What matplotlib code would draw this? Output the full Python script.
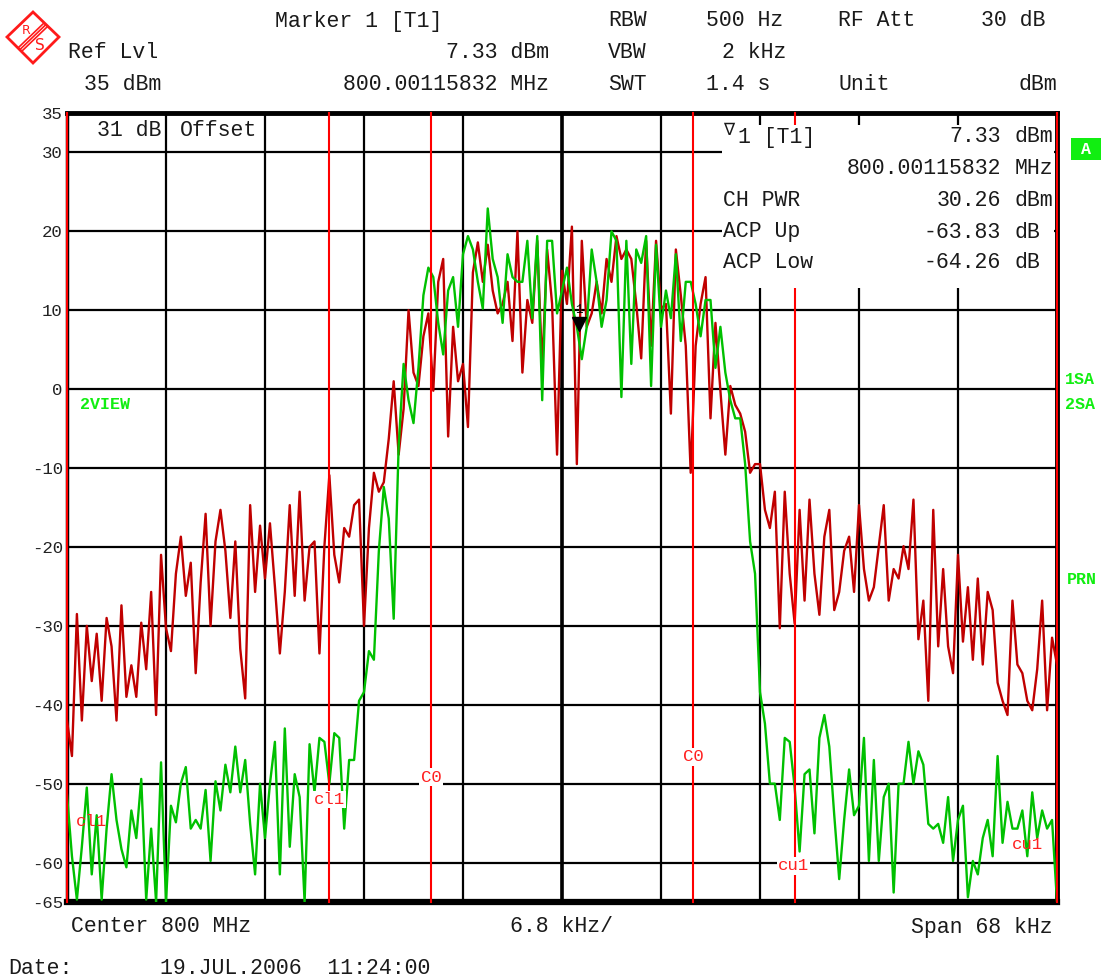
import numpy as np
import matplotlib
matplotlib.use("Agg")
import matplotlib.pyplot as plt
from matplotlib.patches import Rectangle, Polygon
from matplotlib.lines import Line2D
from matplotlib import transforms

W, H = 1107, 977
mono = "Liberation Mono"

# trace data: 201 sweep points, offset from 800 MHz in kHz
freq = np.linspace(-34, 34, 201)

red_db = [
    -42, -46.5, -28.5, -42, -30, -37, -31, -39.5, -29, -32.6,
    -42, -27.4, -39, -35, -39, -29.6, -35.5, -25.7, -41.3, -21,
    -30.3, -33.2, -23.4, -18.7, -26.2, -22, -36, -24.5, -15.8, -30,
    -19.3, -15.3, -20.5, -29, -19.3, -32.9, -39.2, -14.7, -25.7, -17.3,
    -24, -17, -25, -33.5, -25.7, -14.7, -26.2, -13, -26.8, -20,
    -19.3, -33.5, -19.9, -10.9, -21, -24.5, -17.6, -18.7, -14.7, -14,
    -30, -17.6, -10.6, -13, -11.8, -6.3, 1, -8.3, -2.5, 10,
    2.1, 0.4, 6.7, 9.6, -0.2, 13.6, 16.5, -6, 7.9, 1,
    3.2, -4.8, 14.8, 18.6, 13.6, 18.3, 12.5, 9.6, 10.8, 13.6,
    6.1, 20, 2.1, 11.3, 8.4, 18.8, 2.7, 17.7, 10.8, -8.3,
    15, 10.8, 20.6, -9.5, 18.8, 7.9, 9.6, 13.6, 9.6, 16.5,
    13.6, 19.4, 16.5, 17.7, 16.5, 10.8, 3.9, 18.8, 5.5, 18.8,
    10.2, 10.8, -3.1, 17.7, 11.9, 5.5, -10.6, 5.5, 10.8, 14.2,
    -3.7, 8.4, -0.2, -8.3, 0.4, -2, -3.1, -5.4, -10.6, -9.5,
    -9.5, -15.3, -17.6, -13, -30.3, -13, -23.4, -29.7, -15.3, -26.8,
    -14, -23.4, -28.6, -18.7, -15.3, -28, -25.7, -20.5, -18.7, -25.7,
    -14.7, -22.8, -26.8, -25.1, -19.9, -14.7, -26.8, -22.8, -24, -19.9,
    -22.8, -14, -31.7, -26.8, -39.5, -15.3, -32.6, -22.8, -32.6, -36,
    -21, -32, -25.1, -34.3, -24, -34.9, -25.7, -28, -37.2, -39.5,
    -41.3, -26.8, -34.9, -36, -39.5, -40.7, -35.5, -26.8, -40.7, -31.5,
    -34.9,
]

green_db = [
    -51.4, -59.2, -64.7, -58, -50.5, -61.5, -54, -64.7, -55.7, -48.8,
    -54.6, -58.3, -60.6, -53.4, -56.9, -49.4, -64.7, -55.7, -65, -47.3,
    -65, -52.8, -54.9, -50, -47.9, -55.7, -54.6, -55.7, -50.8, -59.8,
    -49.7, -53.4, -47.6, -51.1, -45.3, -51.1, -47, -55.1, -61.5, -50,
    -56.9, -50, -44.7, -61.5, -43, -58, -48.8, -51.7, -65, -45,
    -51.1, -44.2, -44.7, -50, -43.6, -44.2, -55.7, -47, -47, -39.5,
    -38.4, -33.2, -34.3, -20.5, -12.4, -16.4, -29.1, -7.2, 3.2, -1.4,
    -4.3, 2.7, 11.9, 15.4, 14.2, 8.4, 4.4, 12.5, 14.2, 7.9,
    17.1, 19.4, 17.7, 13.6, 10.2, 22.9, 16.5, 14.2, 8.4, 17.1,
    14.2, 13.6, 13.6, 18.8, 9, 19.4, -1.4, 18.8, 18.8, 9.6,
    12.5, 15.4, 10.8, 7.9, 3.8, 7.9, 17.7, 13.6, 7.9, 11.3,
    20, 18.8, -1, 18.8, 3.2, 17.7, 16, 19.4, 0.4, 18.3,
    7.9, 12.5, 9, 17.1, 6.1, 13.6, 13.6, 10.8, 6.7, 11.3,
    11.3, 2.7, 7.9, 2.1, -1.4, -3.7, -3.7, -9.5, -19.3, -23.4,
    -38.4, -42.4, -50, -50, -54.6, -44.2, -44.7, -50.5, -58.6, -48.8,
    -48.2, -56.3, -44.2, -41.3, -45.3, -54, -62.1, -54.6, -48.2, -54,
    -52.8, -44.2, -59.8, -47, -59.8, -51.7, -50, -63.8, -50, -50,
    -44.7, -50, -45.9, -47.6, -55.1, -55.7, -55.1, -57.5, -51.7, -59.8,
    -54.6, -52.8, -64.4, -59.8, -61.5, -56.9, -54.6, -59.2, -46.5, -57.5,
    -52.3, -55.7, -55.7, -53.4, -59.2, -51.1, -56.9, -53.4, -55.7, -54.6,
    -65,
]

# channel / adjacent channel limits (kHz)
chan_lines = [-34, -16, -9, 9, 16, 34]
marker_f = 1.15832
marker_db = 7.33
y_ticks = [35, 30, 20, 10, 0, -10, -20, -30, -40, -50, -60, -65]


def fp(x, y):
    # pixel position -> figure fraction
    return x / W, 1 - y / H


fig = plt.figure(figsize=(W / 100, H / 100), dpi=100)
ax = fig.add_axes([67 / W, 1 - 902 / H, 990 / W, 789 / H])
ax.set_xlim(-34, 34)
ax.set_ylim(-65, 35)
ax.set_xticks(np.arange(-34, 34.01, 6.8))
ax.set_xticklabels([])
ax.set_yticks(y_ticks)
ax.set_yticklabels([str(t) for t in y_ticks], fontfamily=mono, fontsize=12.5, color="#222222")
ax.tick_params(length=0, pad=3)
ax.set_axisbelow(True)
ax.grid(True, color="black", lw=1.6)
ax.axvline(0, color="black", lw=2.6, zorder=1)

for side, lw in [("left", 2.5), ("bottom", 4.5), ("top", 3.5), ("right", 3.5)]:
    ax.spines[side].set_linewidth(lw)

ax.plot(freq, red_db, color="#c00000", lw=1.7, zorder=3)
ax.plot(freq, green_db, color="#00c000", lw=1.7, zorder=4)

for f in chan_lines:
    ax.axvline(f, color="#ff0000", lw=1.5, zorder=5, clip_on=False)

lab = dict(color="#ff2020", fontsize=12.5, family=mono, ha="center", va="center", zorder=6)
box = dict(fc="white", ec="none", pad=1)
ax.text(-32.3, -54.8, "cl1", **lab)
ax.text(-16, -52.0, "cl1", bbox=box, **lab)
ax.text(-9, -49.2, "C0", bbox=box, **lab)
ax.text(9, -46.6, "C0", bbox=box, **lab)
ax.text(15.9, -60.4, "cu1", bbox=box, **lab)
ax.text(32.0, -57.7, "cu1", **lab)

# marker 1
tr = transforms.offset_copy(ax.transData, fig=fig, y=7, units="dots")
ax.plot([marker_f], [marker_db], marker="v", color="black", ms=10, transform=tr, zorder=7)
ax.annotate("1", (marker_f, marker_db), xytext=(0, 21), textcoords="offset pixels",
            ha="center", va="center", fontsize=9, family=mono, zorder=7)

# marker info box covering the grid
fig.add_artist(Rectangle(fp(722, 288), (1054 - 722) / W, (288 - 125) / H,
                         transform=fig.transFigure, fc="white", ec="none", zorder=1))

hdr = dict(family=mono, fontsize=15.5, color="#1a1a1a", va="center", zorder=3)
fig.text(*fp(275, 21), "Marker 1 [T1]", **hdr)
fig.text(*fp(608, 21), "RBW", **hdr)
fig.text(*fp(706, 21), "500 Hz", **hdr)
fig.text(*fp(838, 21), "RF Att", **hdr)
fig.text(*fp(1045, 21), "30 dB", ha="right", **hdr)
fig.text(*fp(68, 52), "Ref Lvl", **hdr)
fig.text(*fp(549, 52), "7.33 dBm", ha="right", **hdr)
fig.text(*fp(608, 52), "VBW", **hdr)
fig.text(*fp(786, 52), "2 kHz", ha="right", **hdr)
fig.text(*fp(84, 84), "35 dBm", **hdr)
fig.text(*fp(549, 84), "800.00115832 MHz", ha="right", **hdr)
fig.text(*fp(608, 84), "SWT", **hdr)
fig.text(*fp(706, 84), "1.4 s", **hdr)
fig.text(*fp(838, 84), "Unit", **hdr)
fig.text(*fp(1057, 84), "dBm", ha="right", **hdr)

fig.text(*fp(97, 131), "31 dB", **hdr)
fig.text(*fp(180, 131), "Offset", **hdr)

fig.text(*fp(729, 130), "\u2207", family="DejaVu Sans", fontsize=12, ha="center",
         va="center", color="#1a1a1a", zorder=3)
fig.text(*fp(738, 138), "1 [T1]", **hdr)
rows = [(136, "7.33", "dBm"), (168, "800.00115832", "MHz"), (200, "30.26", "dBm"),
        (232, "-63.83", "dB"), (263, "-64.26", "dB")]
for y, num, unit in rows:
    fig.text(*fp(1001, y), num, ha="right", **hdr)
    fig.text(*fp(1015, y), unit, **hdr)
fig.text(*fp(723, 200), "CH PWR", **hdr)
fig.text(*fp(723, 232), "ACP Up", **hdr)
fig.text(*fp(723, 263), "ACP Low", **hdr)

fig.text(*fp(71, 927), "Center 800 MHz", **hdr)
fig.text(*fp(510, 927), "6.8 kHz/", **hdr)
fig.text(*fp(1053, 927), "Span 68 kHz", ha="right", **hdr)
fig.text(*fp(8, 968), "Date:", **hdr)
fig.text(*fp(160, 968), "19.JUL.2006  11:24:00", **hdr)

# green status labels
glab = dict(family=mono, fontsize=12, weight="bold", color="#11ee11", va="center")
fig.text(*fp(80, 405), "2VIEW", **glab)
fig.text(*fp(1065, 379), "1SA", **glab)
fig.text(*fp(1065, 405), "2SA", **glab)
fig.text(*fp(1067, 580), "PRN", **glab)
fig.add_artist(Rectangle(fp(1071, 160), 30 / W, 22 / H, transform=fig.transFigure,
                         fc="#11ee11", ec="none"))
fig.text(*fp(1086, 149), "A", family=mono, fontsize=12, weight="bold", color="white",
         ha="center", va="center")

# R&S logo
diamond = [fp(33, 12), fp(59, 37), fp(33, 63), fp(7, 37)]
fig.add_artist(Polygon(diamond, closed=True, fill=False, ec="#ff1a1a", lw=2,
                       transform=fig.transFigure))
for k in (-2.5, 0, 2.5):
    cx, cy = 33 + 0.69 * k, 37 + 0.72 * k
    x0, y0 = fp(cx - 12.5, cy + 12)
    x1, y1 = fp(cx + 12.5, cy - 12)
    fig.add_artist(Line2D([x0, x1], [y0, y1], color="#ff1a1a", lw=1.2,
                          transform=fig.transFigure))
fig.text(*fp(26, 31), "R", family="DejaVu Sans", fontsize=9, color="#ff1a1a",
         ha="center", va="center")
fig.text(*fp(40, 45), "S", family="DejaVu Sans", fontsize=11, color="#ff1a1a",
         ha="center", va="center")

fig.savefig("out.png", dpi=100)
